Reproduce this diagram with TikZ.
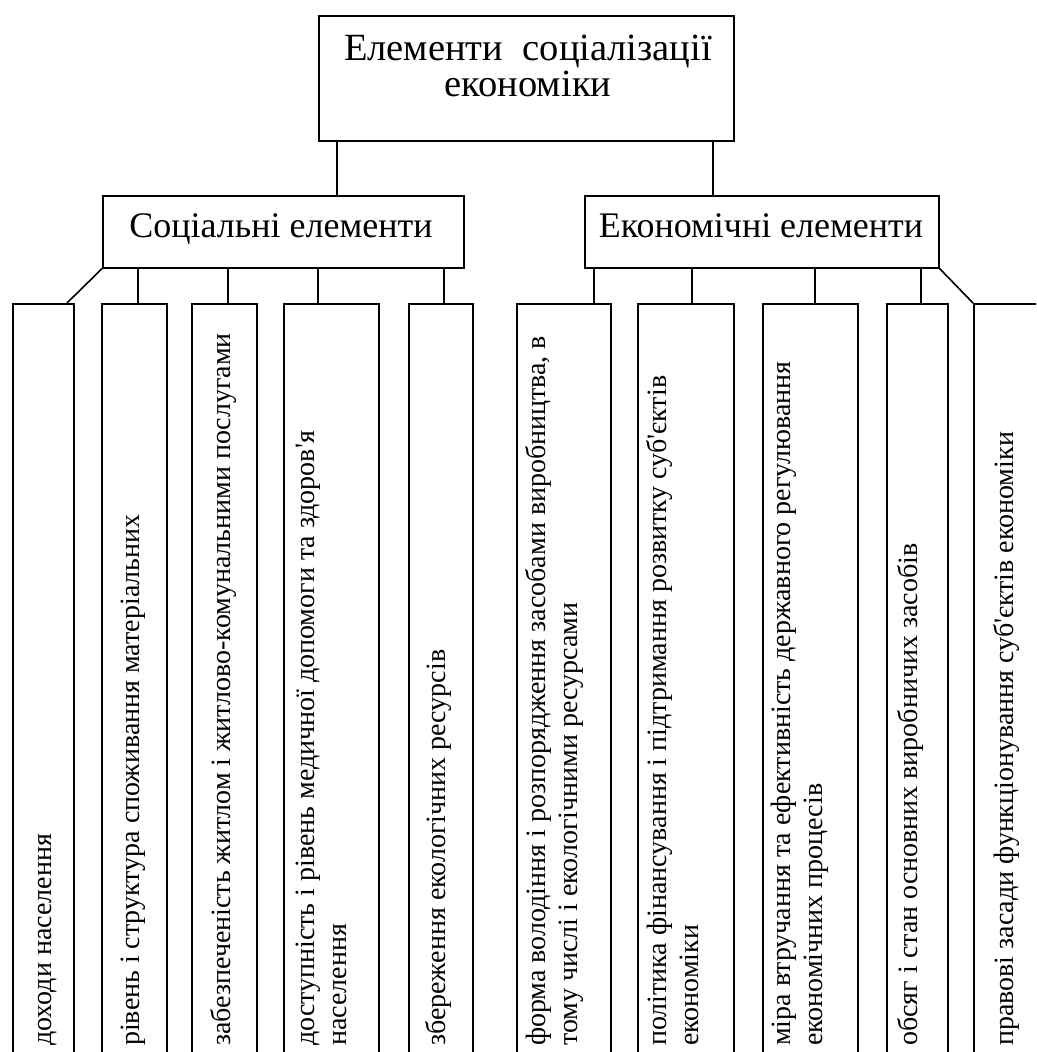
\documentclass[tikz,border=0pt]{standalone}
\usepackage{fontspec}
\setmainfont{Liberation Serif}
\newcommand{\apos}{\textquotesingle}
\begin{document}
\begin{tikzpicture}[x=1pt,y=-1pt,
  box/.style={draw, line width=1.6pt, rectangle, inner sep=0pt, anchor=north west},
  conn/.style={line width=1.6pt},
  vtxt/.style={rotate=90, anchor=west, inner sep=0pt, align=left, font=\fontsize{28}{32}\selectfont},
  htxt/.style={inner sep=0pt, anchor=base, font=\fontsize{36}{40}\selectfont},
]
\useasboundingbox (0,0) rectangle (1036,1052);
\fill[white] (0,0) rectangle (1036,1052);
\clip (0,0) rectangle (1036,1052);

% top level
\node[box, minimum width=415pt, minimum height=125pt] (top) at (318,15) {};
\node[inner sep=0pt, anchor=north, align=center, font=\fontsize{38.5}{36}\selectfont] (toptxt) at (528,35) {Елементи\ \ соціалізації\\економіки};

% second level
\node[box, minimum width=361pt, minimum height=72pt] (soc) at (102,195) {};
\node[htxt] (soctxt) at (281,237) {Соціальні елементи};
\node[box, minimum width=354pt, minimum height=72pt] (eco) at (584,195) {};
\node[htxt] (ecotxt) at (761,237) {Економічні елементи};

% bottom boxes
\node[box, minimum width=61pt, minimum height=800pt] (b1) at (12,303) {};
\node[box, minimum width=65pt, minimum height=800pt] (b2) at (101,303) {};
\node[box, minimum width=65pt, minimum height=800pt] (b3) at (191,303) {};
\node[box, minimum width=95pt, minimum height=800pt] (b4) at (283,303) {};
\node[box, minimum width=64pt, minimum height=800pt] (b5) at (408,303) {};
\node[box, minimum width=94pt, minimum height=800pt] (b6) at (516,303) {};
\node[box, minimum width=96pt, minimum height=800pt] (b7) at (637,303) {};
\node[box, minimum width=95pt, minimum height=800pt] (b8) at (762,303) {};
\node[box, minimum width=61pt, minimum height=800pt] (b9) at (886,303) {};
\node[box, minimum width=120pt, minimum height=800pt] (b10) at (973,303) {};

% vertical texts
\node[vtxt] (t1) at (45,1046) {\strut доходи населення};
\node[vtxt] (t2) at (133,1046) {\strut рівень і структура споживання матеріальних};
\node[vtxt] (t3) at (224,1046) {\strut забезпеченість житлом і житлово-комунальними послугами};
\node[vtxt] (t4) at (324,1046) {\strut доступність і рівень медичної допомоги та здоров\apos я\\\strut населення};
\node[vtxt] (t5) at (439,1046) {\strut збереження екологічних ресурсів};
\node[vtxt] (t6) at (555,1046) {\strut форма володіння і розпорядження засобами виробництва, в\\\strut тому числі і екологічними ресурсами};
\node[vtxt] (t7) at (676,1046) {\strut політика фінансування і підтримання розвитку суб\apos єктів\\\strut економіки};
\node[vtxt] (t8) at (800,1046) {\strut міра втручання та ефективність державного регулювання\\\strut економічних процесів};
\node[vtxt] (t9) at (911,1046) {\strut обсяг і стан основних виробничих засобів};
\node[vtxt] (t10) at (1007,1046) {\strut правові засади функціонування суб\apos єктів економіки};

% connector points
\coordinate (ka) at (337,195);
\coordinate (kb) at (713,195);
\coordinate (k1) at (67,303);
\coordinate (k2) at (138,303);
\coordinate (k3) at (228,303);
\coordinate (k4) at (318,303);
\coordinate (k5) at (444,303);
\coordinate (k6) at (594,303);
\coordinate (k7) at (692,303);
\coordinate (k8) at (815,303);
\coordinate (k9) at (921,303);

\draw[conn] (ka |- top.south) -- (ka);
\draw[conn] (kb |- top.south) -- (kb);
\draw[conn] (soc.south west) -- (k1);
\draw[conn] (k2 |- soc.south) -- (k2);
\draw[conn] (k3 |- soc.south) -- (k3);
\draw[conn] (k4 |- soc.south) -- (k4);
\draw[conn] (k5 |- soc.south) -- (k5);
\draw[conn] (k6 |- eco.south) -- (k6);
\draw[conn] (k7 |- eco.south) -- (k7);
\draw[conn] (k8 |- eco.south) -- (k8);
\draw[conn] (k9 |- eco.south) -- (k9);
\draw[conn] (eco.south east) -- (b10.north west);
\end{tikzpicture}
\end{document}
